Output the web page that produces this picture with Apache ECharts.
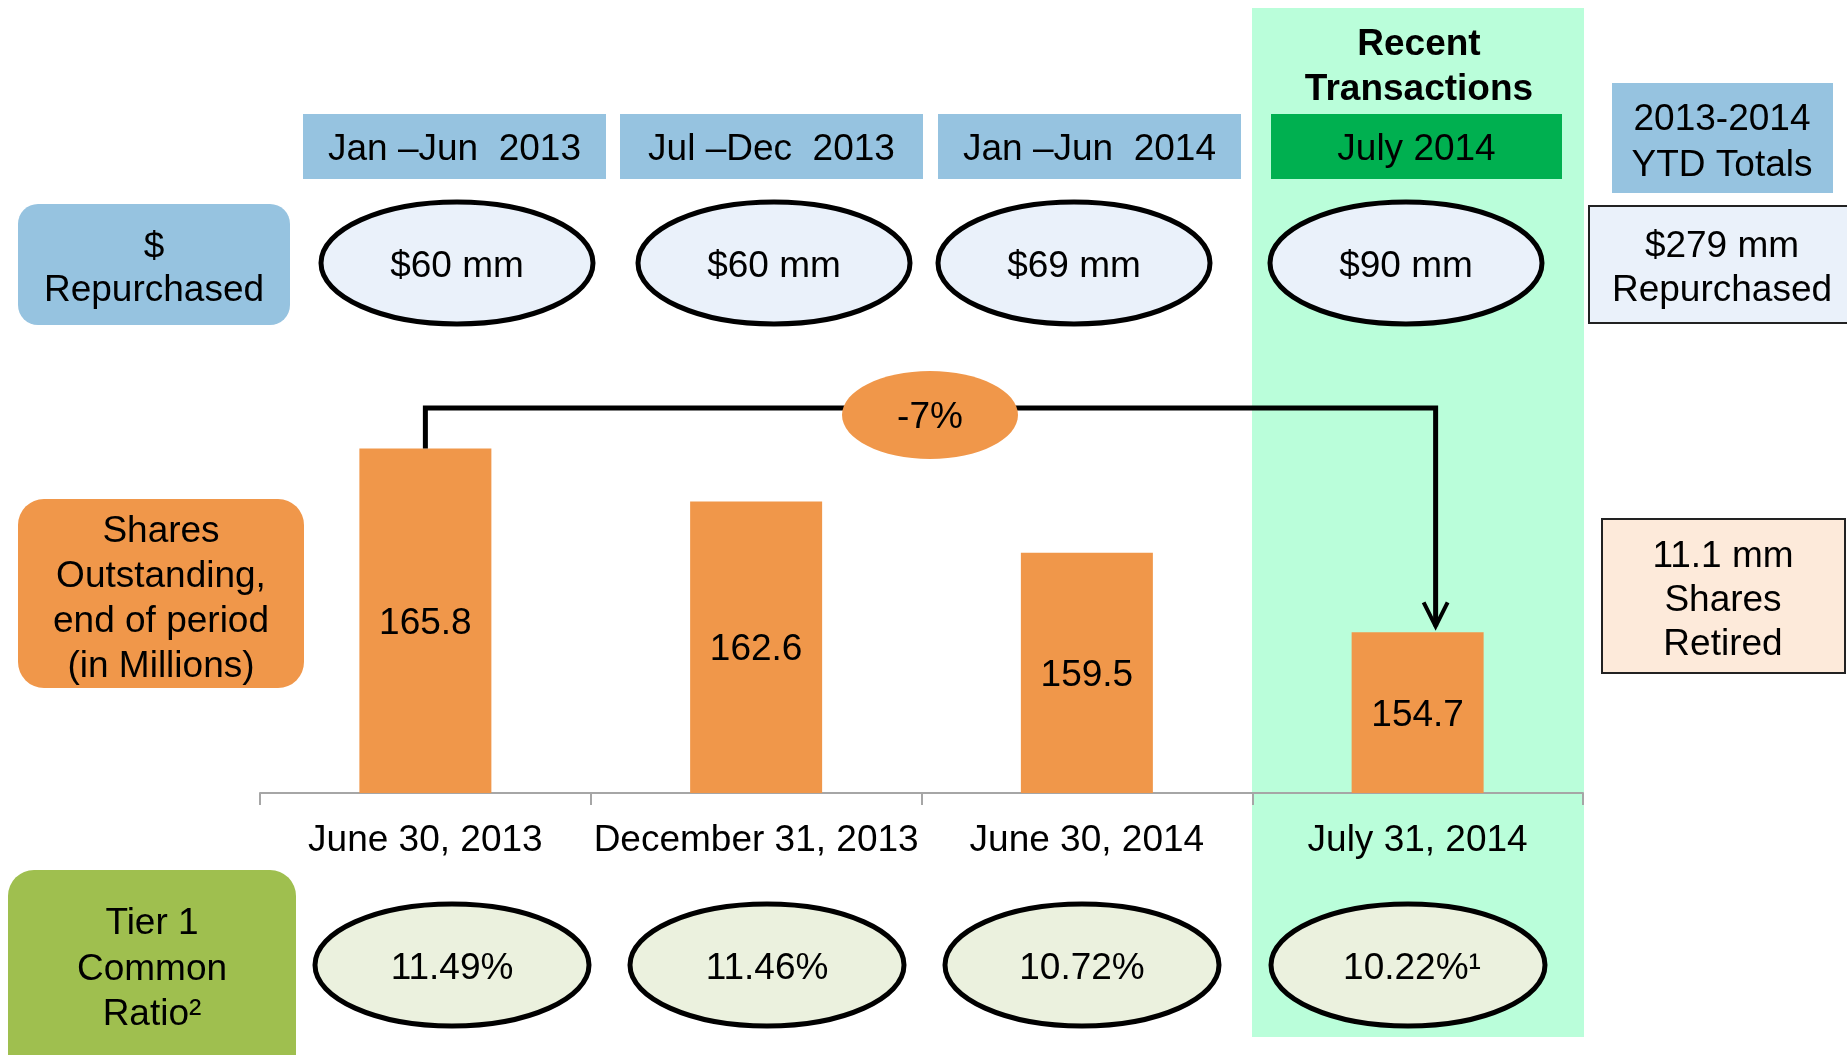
<!DOCTYPE html>
<html>
<head>
<meta charset="utf-8">
<script src="https://cdn.jsdelivr.net/npm/echarts@6/dist/echarts.min.js"></script>
<style>
  html, body { margin: 0; padding: 0; background: #fff; }
  #main { width: 1847px; height: 1055px; }
</style>
</head>
<body>
<div id="main"></div>
<script>
  // data
  const categories = ['June 30, 2013', 'December 31, 2013', 'June 30, 2014', 'July 31, 2014'];
  const sharesOutstanding = [165.8, 162.6, 159.5, 154.7];
  const periods = ['Jan –Jun  2013', 'Jul –Dec  2013', 'Jan –Jun  2014', 'July 2014'];
  const repurchased = ['$60 mm', '$60 mm', '$69 mm', '$90 mm'];
  const tier1Ratio = ['11.49%', '11.46%', '10.72%', '10.22%¹'];
  const ytdTotal = '$279 mm';
  const sharesRetired = '11.1 mm';
  const changePct = '-7%';

  // layout (pixels)
  const headerX = [[303, 606], [620, 923], [938, 1241], [1271, 1562]];
  const repEllipseX = [457, 774, 1074, 1406];
  const tierEllipseX = [452, 767, 1082, 1408];
  const FONT = 'Liberation Sans, Arial, sans-serif';
  const font = (size, bold) => (bold ? 'bold ' : '') + size + 'px ' + FONT;
  const DY = 3; // text baseline nudge

  const chart = echarts.init(document.getElementById('main'));
  chart.setOption({
    animation: false,
    grid: { left: 260, right: 264, top: 296, bottom: 262 },
    xAxis: {
      type: 'category',
      data: categories,
      axisLine: { lineStyle: { color: '#A6A6A6', width: 2 } },
      axisTick: { show: true, length: 12, lineStyle: { color: '#A6A6A6', width: 2 } },
      axisLabel: { color: '#000', fontSize: 37, fontFamily: FONT, margin: 29, interval: 0 }
    },
    yAxis: { type: 'value', min: 145, max: 175, show: false },
    series: [{
      type: 'bar',
      data: sharesOutstanding,
      barWidth: 132,
      itemStyle: { color: '#F0974A' },
      label: { show: true, position: 'inside', offset: [0, DY], color: '#000', fontSize: 37, fontFamily: FONT },
      z: 2
    }]
  });

  const g = [];
  const txt = (text, x, y, size, bold) => g.push({
    type: 'text', z: 20,
    style: { text: text, x: x, y: y + DY, font: font(size, bold), fill: '#000',
             align: 'center', verticalAlign: 'middle' }
  });

  // highlighted column background
  g.push({ type: 'rect', z: -1, shape: { x: 1252, y: 8, width: 332, height: 1029 }, style: { fill: '#BAFEDA' } });

  txt('Recent', 1419, 42, 37, true);
  txt('Transactions', 1419, 87, 37, true);

  // period headers
  periods.forEach((p, i) => {
    const [x0, x1] = headerX[i];
    g.push({ type: 'rect', z: 5, shape: { x: x0, y: 114, width: x1 - x0, height: 65 },
             style: { fill: i === 3 ? '#00B050' : '#96C3E0' } });
    txt(p, (x0 + x1) / 2, 147, 37);
  });

  // YTD header
  g.push({ type: 'rect', z: 5, shape: { x: 1612, y: 83, width: 221, height: 110 }, style: { fill: '#96C3E0' } });
  txt('2013-2014', 1722, 117, 37);
  txt('YTD Totals', 1722, 163, 37);

  // $ repurchased row
  g.push({ type: 'rect', z: 5, shape: { x: 18, y: 204, width: 272, height: 121, r: 20 }, style: { fill: '#96C3E0' } });
  txt('$', 154, 245, 37);
  txt('Repurchased', 154, 288, 37);
  repurchased.forEach((v, i) => {
    g.push({ type: 'ellipse', z: 5, shape: { cx: repEllipseX[i], cy: 263, rx: 136, ry: 61 },
             style: { fill: '#EAF1FA', stroke: '#000', lineWidth: 5 } });
    txt(v, repEllipseX[i], 264, 37);
  });
  g.push({ type: 'rect', z: 5, shape: { x: 1589, y: 206, width: 270, height: 117 },
           style: { fill: '#EAF1FA', stroke: '#222', lineWidth: 2 } });
  txt(ytdTotal, 1722, 244, 37);
  txt('Repurchased', 1722, 288, 37);

  // shares outstanding label
  g.push({ type: 'rect', z: 5, shape: { x: 18, y: 499, width: 286, height: 189, r: 26 }, style: { fill: '#F0974A' } });
  ['Shares', 'Outstanding,', 'end of period', '(in Millions)'].forEach((t, i) => txt(t, 161, 529 + i * 45, 37));

  // shares retired box
  g.push({ type: 'rect', z: 5, shape: { x: 1602, y: 519, width: 243, height: 154 },
           style: { fill: '#FDEADA', stroke: '#222', lineWidth: 2 } });
  txt(sharesRetired, 1723, 554, 37);
  txt('Shares', 1723, 598, 37);
  txt('Retired', 1723, 642, 37);

  // tier 1 row
  g.push({ type: 'rect', z: 5, shape: { x: 8, y: 870, width: 288, height: 220, r: 26 }, style: { fill: '#9FBF4F' } });
  txt('Tier 1', 152, 921, 37);
  txt('Common', 152, 967, 37);
  txt('Ratio²', 152, 1012, 37);
  tier1Ratio.forEach((v, i) => {
    g.push({ type: 'ellipse', z: 5, shape: { cx: tierEllipseX[i], cy: 965, rx: 137, ry: 61 },
             style: { fill: '#EBF1DE', stroke: '#000', lineWidth: 5 } });
    txt(v, tierEllipseX[i] + (i === 3 ? 4 : 0), 966, 37);
  });

  // change bracket from first bar to last bar
  const p0 = chart.convertToPixel({ seriesIndex: 0 }, [0, sharesOutstanding[0]]);
  const p3 = chart.convertToPixel({ seriesIndex: 0 }, [3, sharesOutstanding[3]]);
  const lineY = 408;
  const arrowX = p3[0] + 18;
  const tipY = p3[1] - 6;
  g.push({ type: 'polyline', z: 8, shape: { points: [[p0[0], p0[1]], [p0[0], lineY], [arrowX, lineY], [arrowX, tipY]] },
           style: { stroke: '#000', lineWidth: 5, fill: null } });
  g.push({ type: 'polyline', z: 8, shape: { points: [[arrowX - 12, tipY - 24], [arrowX, tipY], [arrowX + 12, tipY - 24]] },
           style: { stroke: '#000', lineWidth: 4, fill: null } });
  g.push({ type: 'ellipse', z: 9, shape: { cx: 930, cy: 415, rx: 88, ry: 44 }, style: { fill: '#F0974A' } });
  txt(changePct, 930, 415, 37);

  chart.setOption({ graphic: g });
</script>
</body>
</html>
